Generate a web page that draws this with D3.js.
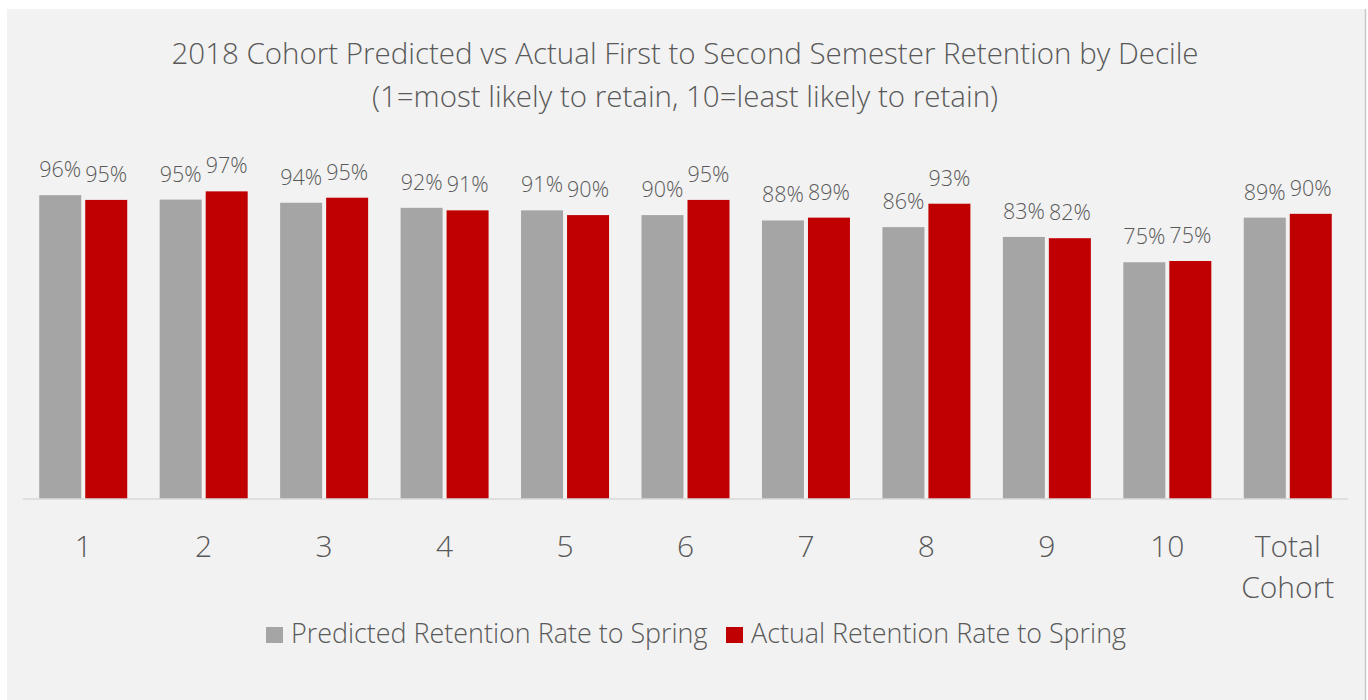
<!DOCTYPE html>
<html>
<head>
<meta charset="utf-8">
<script src="https://cdn.jsdelivr.net/npm/d3@7"></script>
<style>
  html, body { margin: 0; padding: 0; background: #ffffff; }
  svg { display: block; }
  text { font-family: "Open Sans", "Noto Sans", sans-serif; font-weight: 300; fill: #595959; }
</style>
</head>
<body>
<svg id="chart" width="1368" height="700"></svg>
<script>
const categories = ["1", "2", "3", "4", "5", "6", "7", "8", "9", "10", "Total Cohort"];
const predicted = [0.960, 0.946, 0.936, 0.920, 0.912, 0.897, 0.880, 0.859, 0.828, 0.748, 0.889];
const actual    = [0.945, 0.972, 0.952, 0.912, 0.897, 0.945, 0.889, 0.933, 0.824, 0.752, 0.901];
const seriesNames = ["Predicted Retention Rate to Spring", "Actual Retention Rate to Spring"];
const seriesColors = ["#a5a5a5", "#c00000"];
const titleLines = ["2018 Cohort Predicted vs Actual First to Second Semester Retention by Decile",
                    "(1=most likely to retain, 10=least likely to retain)"];

const svg = d3.select("#chart");

// panel
svg.append("rect").attr("x", 7).attr("y", 9).attr("width", 1358).attr("height", 700)
  .attr("fill", "#f2f2f2");
svg.append("line").attr("x1", 1365.5).attr("x2", 1365.5).attr("y1", 9).attr("y2", 700)
  .attr("stroke", "#c8c8c8").attr("stroke-width", 1.5);

const plot = { left: 23, right: 1348, top: 182.5, bottom: 499 };

const x0 = d3.scaleBand().domain(categories).range([plot.left, plot.right])
  .paddingInner(0.2694).paddingOuter(0.1347);
const x1 = d3.scaleBand().domain([0, 1]).range([0, x0.bandwidth()]).paddingInner(0.087).paddingOuter(0);
const y = d3.scaleLinear().domain([0, 1]).range([plot.bottom, plot.top]);

const data = categories.map((c, i) => ({ cat: c, vals: [predicted[i], actual[i]] }));

// title
const title = svg.append("text").attr("text-anchor", "middle").attr("font-size", 29.5);
title.append("tspan").attr("x", 685).attr("y", 64).text(titleLines[0]);
title.append("tspan").attr("x", 685).attr("y", 107).text(titleLines[1]);

// bars
const groups = svg.append("g").selectAll("g").data(data).join("g")
  .attr("transform", d => `translate(${x0(d.cat)},0)`);
groups.selectAll("rect").data(d => d.vals.map((v, k) => ({ v, k }))).join("rect")
  .attr("x", d => x1(d.k))
  .attr("width", x1.bandwidth())
  .attr("y", d => y(d.v))
  .attr("height", d => y(0) - y(d.v))
  .attr("fill", d => seriesColors[d.k]);
groups.selectAll("text.lbl").data(d => d.vals.map((v, k) => ({ v, k }))).join("text")
  .attr("class", "lbl")
  .attr("x", d => x1(d.k) + x1.bandwidth() / 2)
  .attr("y", d => y(d.v) - 18)
  .attr("text-anchor", "middle")
  .attr("font-size", 21.5)
  .text(d => d3.format(".0%")(d.v));

// x axis
const xAxis = d3.axisBottom(x0).tickSize(0).tickPadding(0);
const ax = svg.append("g").attr("transform", `translate(0,${plot.bottom})`).call(xAxis);
ax.select(".domain").attr("stroke", "#d9d9d9").attr("stroke-width", 1.5)
  .attr("d", `M${plot.left},0H${plot.right}`);
ax.selectAll(".tick text").each(function(d) {
  const t = d3.select(this);
  t.text(null).attr("y", 0).attr("dy", null)
    .attr("font-size", 30).attr("fill", "#595959")
    .attr("font-family", null);
  const words = d.split(" ");
  words.forEach((w, i) => {
    t.append("tspan").attr("x", 0).attr("y", 58 + i * 41).text(w);
  });
});

// legend
const legend = svg.append("g");
const legX = [266, 726];
seriesNames.forEach((name, i) => {
  legend.append("rect").attr("x", legX[i]).attr("y", 627).attr("width", 17).attr("height", 16)
    .attr("fill", seriesColors[i]);
  legend.append("text").attr("x", legX[i] + 25).attr("y", 643).attr("font-size", 26.9).text(name);
});
</script>
</body>
</html>
